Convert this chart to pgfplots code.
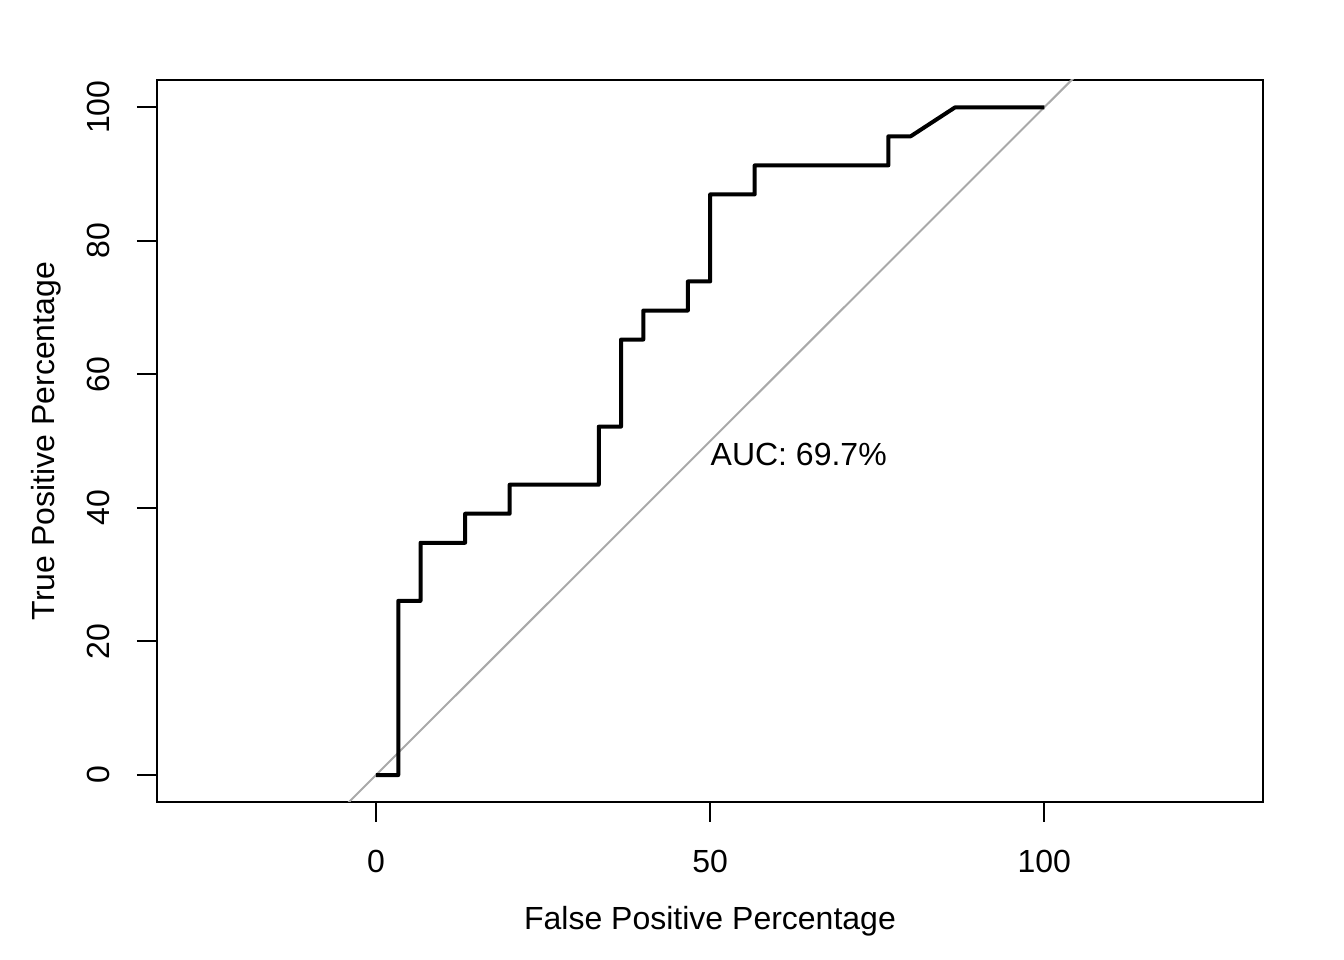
\documentclass[border=0pt]{standalone}
\usepackage{fontspec}
\setmainfont{Liberation Sans}
\usepackage{pgfplots}
\pgfplotsset{compat=1.18}
\definecolor{idgray}{HTML}{A9A9A9}
\begin{document}
\begin{tikzpicture}
\path[use as bounding box] (0,0) rectangle (504bp,360bp);
\begin{axis}[
  at={(58.875bp,59.25bp)}, anchor=south west,
  scale only axis, width=414.75bp, height=270.75bp,
  xmin=-32.77, xmax=132.73, ymin=-4.04, ymax=104.09,
  font=\fontsize{12bp}{14bp}\selectfont,
  axis line style={line width=0.75bp},
  /pgf/number format/assume math mode=true,
  xtick={0,50,100}, ytick={0,20,40,60,80,100},
  xtick pos=bottom, ytick pos=left,
  tick align=outside, major tick length=7.5bp,
  tick style={line width=0.75bp, black},
  xticklabel style={anchor=center, yshift=-14.9bp},
  yticklabel style={anchor=center, rotate=90, yshift=14.6bp},
  xlabel={False Positive Percentage},
  ylabel={True Positive Percentage},
  xlabel style={at={(axis description cs:0.5,0)}, anchor=center, yshift=-44.6bp},
  ylabel style={at={(axis description cs:0,0.5)}, anchor=center, yshift=41.6bp},
  clip=true,
]
\addplot[idgray, line width=0.75bp] coordinates {(-10,-10) (115,115)};
\addplot[black, line width=1.5bp, line join=round] coordinates {
(0,0) (3.333,0) (3.333,26.087) (6.667,26.087) (6.667,34.783) (13.333,34.783)
(13.333,39.130) (20,39.130) (20,43.478) (33.333,43.478) (33.333,52.174)
(36.667,52.174) (36.667,65.217) (40,65.217) (40,69.565) (46.667,69.565)
(46.667,73.913) (50,73.913) (50,86.957) (56.667,86.957) (56.667,91.304)
(76.667,91.304) (76.667,95.652) (80,95.652) (86.667,100) (100,100)};
\node[anchor=west, inner sep=0pt] at (axis cs:50,48) {AUC: 69.7\%};
\end{axis}
\end{tikzpicture}
\end{document}
